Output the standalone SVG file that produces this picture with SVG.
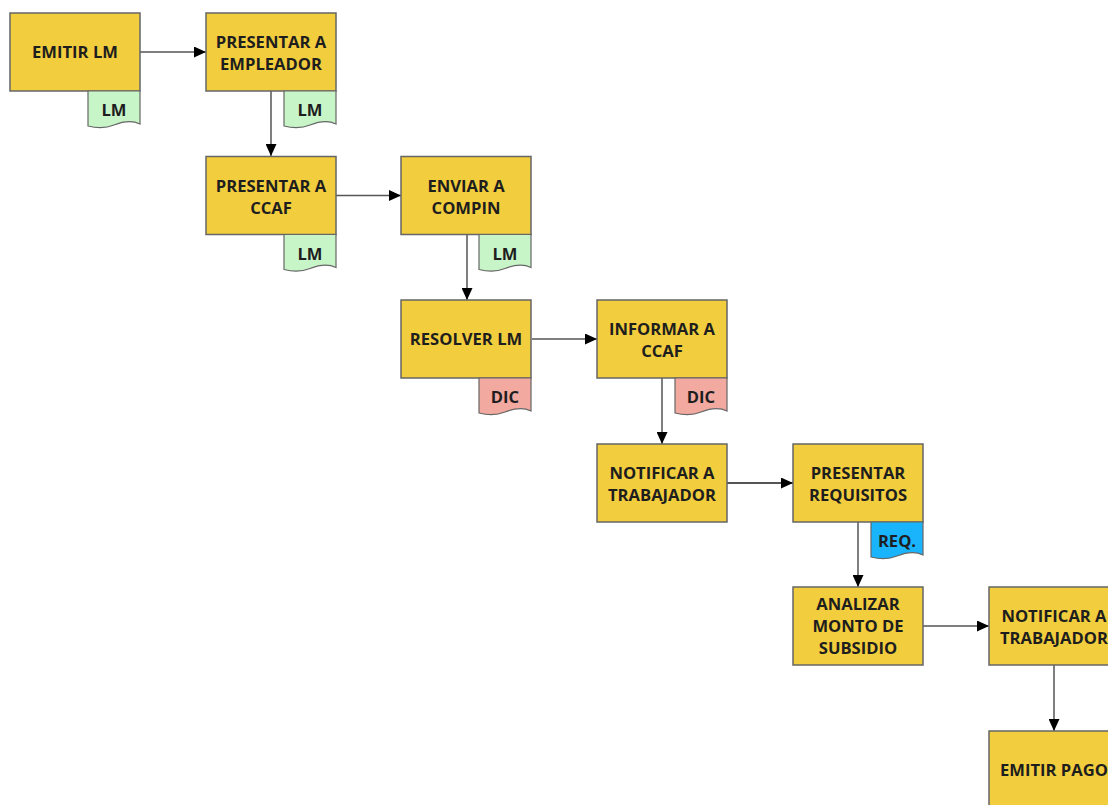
<svg xmlns="http://www.w3.org/2000/svg" width="1108" height="805" viewBox="0 0 1108 805">
<style>
.box{fill:#F2CD3D;stroke:#666;stroke-width:1.5}
.doc{stroke:#666;stroke-width:1.2}
.lm{fill:#C8F5C8}
.dic{fill:#F2A9A0}
.req{fill:#19B4FB}
.t{font-family:"Open Sans","Noto Sans",sans-serif;font-weight:bold;font-size:16.6px;fill:#1e1e1e;text-anchor:middle}
.c{stroke:#555;stroke-width:1.5;fill:none;marker-end:url(#ah)}
</style>
<defs>
<marker id="ah" markerWidth="12" markerHeight="11" refX="12" refY="5.5" orient="auto" markerUnits="userSpaceOnUse">
<path d="M0,0 L12,5.5 L0,11 Z" fill="#000"/>
</marker>
<path id="docshape" d="M0,0 H52 V33 C44,29 36,30 26,34 C16,38 8,37 0,35 Z"/>
</defs>
<rect width="1108" height="805" fill="#fff"/>
<g id="connectors">
<path class="c" d="M140,52 H206"/>
<path class="c" d="M271,91 V156"/>
<path class="c" d="M336,195.5 H401"/>
<path class="c" d="M467,235 V300"/>
<path class="c" d="M532,339 H597"/>
<path class="c" d="M662,378 V444"/>
<path class="c" d="M727,483 H793" style="stroke-width:2"/>
<path class="c" d="M858,522 V587"/>
<path class="c" d="M923,626 H989"/>
<path class="c" d="M1054,665 V731"/>
</g>
<g id="n1">
<rect class="box" x="10" y="13" width="130" height="78"/>
<text class="t" x="75" y="58">EMITIR LM</text>
<use href="#docshape" class="doc lm" x="88" y="91"/>
<text class="t" x="114" y="116">LM</text>
</g>
<g id="n2">
<rect class="box" x="206" y="13" width="130" height="78"/>
<text class="t" x="271" y="48">PRESENTAR A</text>
<text class="t" x="271" y="70">EMPLEADOR</text>
<use href="#docshape" class="doc lm" x="284" y="91"/>
<text class="t" x="310" y="116">LM</text>
</g>
<g id="n3">
<rect class="box" x="206" y="156.5" width="130" height="78"/>
<text class="t" x="271" y="191.5">PRESENTAR A</text>
<text class="t" x="271" y="213.5">CCAF</text>
<use href="#docshape" class="doc lm" x="284" y="234.5"/>
<text class="t" x="310" y="259.5">LM</text>
</g>
<g id="n4">
<rect class="box" x="401" y="156.5" width="130" height="78"/>
<text class="t" x="466" y="191.5">ENVIAR A</text>
<text class="t" x="466" y="213.5">COMPIN</text>
<use href="#docshape" class="doc lm" x="479" y="234.5"/>
<text class="t" x="505" y="259.5">LM</text>
</g>
<g id="n5">
<rect class="box" x="401" y="300" width="130" height="78"/>
<text class="t" x="466" y="345">RESOLVER LM</text>
<use href="#docshape" class="doc dic" x="479" y="378"/>
<text class="t" x="505" y="403">DIC</text>
</g>
<g id="n6">
<rect class="box" x="597" y="300" width="130" height="78"/>
<text class="t" x="662" y="335">INFORMAR A</text>
<text class="t" x="662" y="357">CCAF</text>
<use href="#docshape" class="doc dic" x="675" y="378"/>
<text class="t" x="701" y="403">DIC</text>
</g>
<g id="n7">
<rect class="box" x="597" y="444" width="130" height="78"/>
<text class="t" x="662" y="479">NOTIFICAR A</text>
<text class="t" x="662" y="501">TRABAJADOR</text>
</g>
<g id="n8">
<rect class="box" x="793" y="444" width="130" height="78"/>
<text class="t" x="858" y="479">PRESENTAR</text>
<text class="t" x="858" y="501">REQUISITOS</text>
<use href="#docshape" class="doc req" x="871" y="522"/>
<text class="t" x="897" y="547">REQ.</text>
</g>
<g id="n9">
<rect class="box" x="793" y="587" width="130" height="78"/>
<text class="t" x="858" y="610">ANALIZAR</text>
<text class="t" x="858" y="632">MONTO DE</text>
<text class="t" x="858" y="654">SUBSIDIO</text>
</g>
<g id="n10">
<rect class="box" x="989" y="587" width="130" height="78"/>
<text class="t" x="1054" y="622">NOTIFICAR A</text>
<text class="t" x="1054" y="644">TRABAJADOR</text>
</g>
<g id="n11">
<rect class="box" x="989" y="731" width="130" height="78"/>
<text class="t" x="1054" y="776">EMITIR PAGO</text>
</g>
</svg>
